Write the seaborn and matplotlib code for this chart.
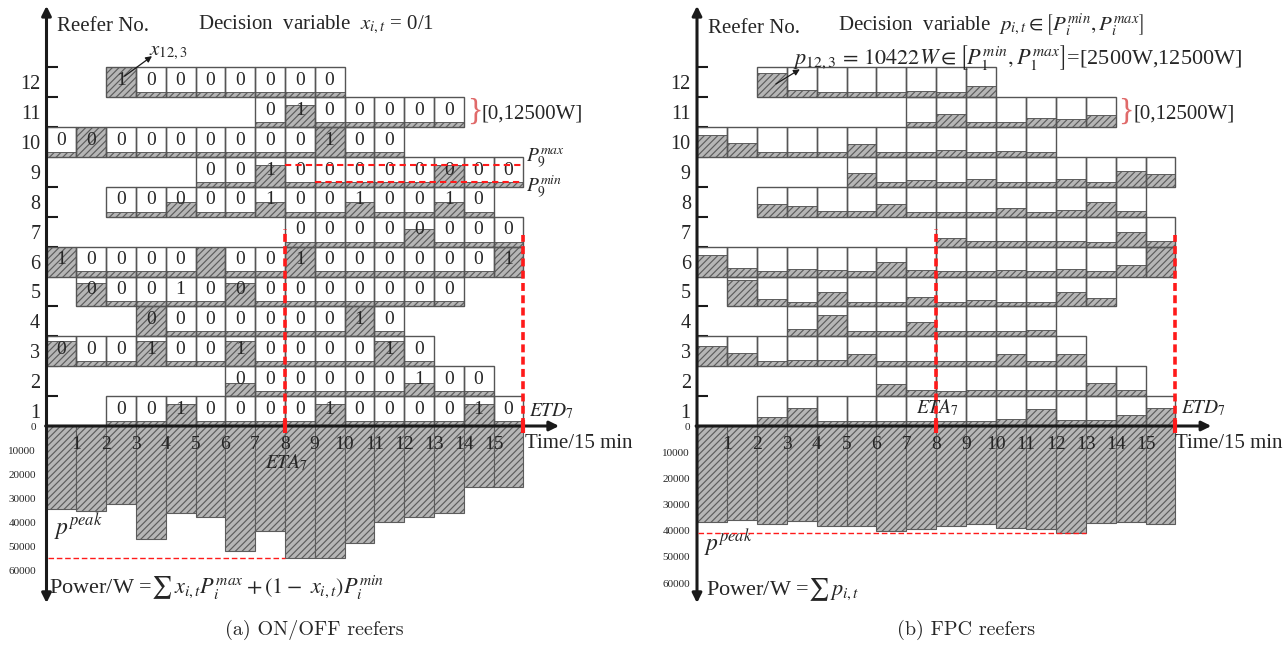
import numpy as np
import pandas as pd
import matplotlib
matplotlib.use("Agg")
import matplotlib.pyplot as plt
import seaborn as sns

# ---------------------------------------------------------------- data
time_labels = [str(i) for i in range(1, 16)]
power_ticks = [0, 10000, 20000, 30000, 40000, 50000, 60000]
reefers = list(range(1, 13))

# first 15-min slot (0-based) of each reefer's stay, reefer 1..12
stay_start = [2, 6, 0, 3, 1, 0, 8, 2, 5, 0, 7, 2]

# ON/OFF decisions written in the cells, reefer 1..12
onoff_x = [
    "00100001000010",
    "000000100",
    "0001001000010",
    "000000010",
    "0001000000000",
    "10000 0010000001",
    "00000000",
    "0000010010010",
    "00100000000",
    "000000000100",
    "0100000",
    "10000000",
]
# hatched power share of each cell (fraction of 12500 W), ON/OFF panel
onoff_level = [
    [.17, .17, .75, .17, .17, .17, .17, .75, .17, .17, .17, .17, .75, .17],
    [.45, .17, .17, .17, .17, .17, .45, .17, .17],
    [.85, .17, .17, .85, .17, .17, .85, .17, .17, .17, .17, .85, .17],
    [1.0, .17, .17, .17, .17, .17, .17, 1.0, .17],
    [.77, .17, .17, .17, .17, .77, .17, .17, .17, .17, .17, .17, .17],
    [1.0, .17, .17, .17, .17, 1.0, .17, .17, 1.0, .17, .17, .17, .17, .17, .17, 1.0],
    [.17, .17, .17, .17, .6, .17, .17, .17],
    [.17, .17, .5, .17, .17, .5, .17, .17, .5, .17, .17, .5, .17],
    [.15, .15, .72, .15, .15, .15, .15, .15, .72, .15, .15],
    [.17, 1.0, .17, .17, .17, .17, .17, .17, .17, 1.0, .17, .17],
    [.17, .75, .17, .17, .17, .17, .17],
    [1.0, .17, .17, .17, .17, .17, .17, .17],
]
# hatched power share of each cell, FPC panel
fpc_level = [
    [.29, .59, .18, .18, .18, .18, .18, .18, .25, .56, .2, .2, .36, .59],
    [.39, .22, .17, .2, .2, .2, .22, .44, .2],
    [.69, .43, .18, .21, .21, .41, .18, .18, .18, .18, .41, .18, .41],
    [.23, .71, .18, .18, .49, .18, .18, .18, .21],
    [.88, .24, .16, .49, .16, .16, .3, .16, .21, .16, .16, .47, .28],
    [.71, .29, .2, .26, .22, .2, .49, .22, .2, .2, .22, .2, .26, .19, .39, .97],
    [.28, .19, .19, .19, .19, .15, .5, .19],
    [.42, .36, .2, .2, .42, .17, .17, .17, .28, .17, .24, .5, .2],
    [.45, .17, .22, .17, .26, .17, .17, .26, .17, .52, .44],
    [.72, .48, .17, .17, .17, .43, .17, .17, .22, .17, .2, .17],
    [.18, .43, .17, .17, .29, .26, .41],
    [.82, .24, .16, .16, .16, .19, .16, .37],
]
# total power per slot (W)
onoff_power = [34700, 35300, 32600, 47200, 36400, 37800, 52100, 43700,
               55000, 55000, 48900, 39900, 37800, 36400, 25300, 25300]
fpc_power = [36600, 35800, 37500, 36200, 38100, 38100, 39900, 39400,
             38100, 37500, 38800, 39400, 40900, 37200, 36600, 37500]
onoff_peak_end = 8
fpc_peak_end = 13

# ---------------------------------------------------------------- style
W, H = 1288, 646
sns.set_theme(style="white")
plt.rcParams["font.family"] = ["Liberation Serif", "DejaVu Serif"]
plt.rcParams["mathtext.fontset"] = "stix"
plt.rcParams["hatch.linewidth"] = 0.85

FACE = "#b6b6b6"
HEDGE = "#5c5c5c"
BOX = "#555555"
RED = "#ff1a1a"
HATCH = "/////"
UY = 29.9      # px per reefer row
Y0 = 426       # px of the time axis
XMAX = 17.6

fig = plt.figure(figsize=(W / 100, H / 100), dpi=100)


def add_axes_px(left, top, width, height):
    return fig.add_axes([left / W, 1 - (top + height) / H, width / W, height / H])


def draw_panel(x0, ux, px10k, levels, labels, power, peak_end, ypad):
    axt = add_axes_px(x0, 0, XMAX * ux, Y0)
    axb = add_axes_px(x0, Y0, XMAX * ux, H - Y0)
    axt.set_zorder(3)
    axb.set_zorder(2)
    for a in (axt, axb):
        a.patch.set_alpha(0)
        for s in a.spines.values():
            s.set_visible(False)

    # ---- power bars (seaborn)
    df = pd.DataFrame({"t": np.arange(len(power)) + 0.5, "p": power})
    sns.barplot(data=df, x="t", y="p", native_scale=True, orient="x", width=1,
                color=FACE, saturation=1, edgecolor=HEDGE, linewidth=0.8,
                hatch=HATCH, errorbar=None, ax=axb)
    pmax_axis = (H - Y0) / px10k * 10000
    axb.set_xlim(0, XMAX)
    axb.set_ylim(pmax_axis, 0)
    axb.set_xlabel("")
    axb.set_ylabel("")
    axb.set_xticks([])
    axb.set_yticks(power_ticks)
    axb.set_yticklabels([str(v) for v in power_ticks])
    axb.tick_params(axis="y", left=True, length=0, pad=ypad, labelsize=8)
    axb.hlines(max(power), 0.05, peak_end, colors=RED, lw=1.0,
               linestyles=(0, (4, 2)), zorder=5)
    axb.annotate("", xy=(0, (603 - Y0) / px10k * 10000), xytext=(0, 0),
                 arrowprops=dict(arrowstyle="-|>", lw=2.2, color="k",
                                 mutation_scale=14, shrinkA=0, shrinkB=0),
                 annotation_clip=False)

    # ---- reefer cells
    axt.set_xlim(0, XMAX)
    axt.set_ylim(0, Y0 / UY)
    for r, s, lev in zip(reefers, stay_start, levels):
        xs = s + np.arange(len(lev))
        axt.bar(xs, lev, width=1, bottom=r - 1, align="edge", color=FACE,
                edgecolor=HEDGE, linewidth=0.7, hatch=HATCH, zorder=2)
        axt.bar(xs, [1] * len(lev), width=1, bottom=r - 1, align="edge",
                fill=False, edgecolor=BOX, linewidth=1.0, zorder=3)
        if labels is not None:
            for j, ch in enumerate(labels[r - 1]):
                if ch.strip():
                    axt.text(s + j + 0.5, r - 1 + 0.56, ch, ha="center",
                             va="center", fontsize=14, zorder=4)

    axt.set_xticks(range(1, 16))
    axt.set_xticklabels(time_labels)
    axt.set_xticks([5, 10, 15], minor=True)
    axt.tick_params(axis="x", which="major", bottom=True, length=0, pad=7,
                    labelsize=14)
    axt.tick_params(axis="x", which="minor", bottom=True, length=3, width=1.2,
                    direction="out", color="k")
    axt.set_yticks([r - 0.5 for r in reefers])
    axt.set_yticklabels([str(r) for r in reefers])
    axt.set_yticks(reefers, minor=True)
    axt.tick_params(axis="y", which="major", left=True, length=0, pad=4.5,
                    labelsize=14.5)
    axt.tick_params(axis="y", which="minor", left=True, length=8, width=1.5,
                    direction="in", color="k")

    ap = dict(arrowstyle="-|>", lw=2.2, color="k", mutation_scale=14,
              shrinkA=0, shrinkB=0)
    axt.annotate("", xy=(0, 14.05), xytext=(0, -0.03), arrowprops=ap,
                 annotation_clip=False)
    axt.annotate("", xy=(17.2, 0), xytext=(-0.03, 0), arrowprops=ap,
                 annotation_clip=False)

    # ETA / ETD of reefer 7
    eta = stay_start[6]
    etd = stay_start[6] + len(levels[6])
    axt.vlines([eta, etd], 0, [6.6, 6.4], colors=RED, lw=2.6,
               linestyles=(0, (2.2, 1.2)), zorder=6)
    axt.vlines([eta, etd], -0.25, 0.2, colors=RED, lw=3, zorder=6,
               clip_on=False)
    # bracket for reefer 11 range
    axt.text(14.1, 10.5, "}", color="#e06a6a", fontsize=23, ha="left",
             va="center", fontweight="light", zorder=6)
    axt.text(14.6, 10.45, "[0,12500W]", fontsize=15, ha="left", va="center")
    return axt, axb, eta, etd


# ---------------------------------------------------------------- panel (a)
axt, axb, eta, etd = draw_panel(46.5, 29.8, 24.0, onoff_level, onoff_x,
                                onoff_power, onoff_peak_end, ypad=7.5)
axt.text(0.35, 13.35, "Reefer No.", fontsize=15, ha="left", va="center")
axt.text(5.1, 13.4, r"Decision  variable  $x_{i,t}$ = 0/1", fontsize=15,
         ha="left", va="center")
axt.text(3.44, 12.5, r"$x_{12,3}$", fontsize=15, ha="left", va="center")
axt.annotate("", xy=(3.54, 12.37), xytext=(2.62, 11.7),
             arrowprops=dict(arrowstyle="-|>", lw=0.9, color="k",
                             mutation_scale=9, shrinkA=0, shrinkB=0),
             zorder=6)
r9 = onoff_level[8]
axt.hlines(8 + max(r9), eta, etd, colors=RED, lw=1.5,
           linestyles=(0, (3, 2)), zorder=6)
axt.hlines(8 + min(r9), eta + 1, etd, colors=RED, lw=1.5,
           linestyles=(0, (3, 2)), zorder=6)
axt.text(16.1, 8.95, r"$P_9^{max}$", fontsize=14, ha="left", va="center")
axt.text(16.1, 8.0, r"$P_9^{min}$", fontsize=14, ha="left", va="center")
axt.text(16.2, 0.48, r"$ETD_7$", fontsize=14, ha="left", va="center")
axb.text(8.05, 15200, r"$ETA_7$", fontsize=14, ha="center", va="center")
axb.text(16.05, 7100, "Time/15 min", fontsize=15, ha="left", va="center")
axb.text(0.25, 42000, r"$p^{peak}$", fontsize=17, ha="left", va="center")
axb.text(0.1, 67500,
         r"Power/W =$\sum\, x_{i,t}P_i^{max} + (1-\ x_{i,t})P_i^{min}$",
         fontsize=16, ha="left", va="center")
axb.text(9.0, 85000, "(a) ON/OFF reefers", fontsize=14.5, family="cmr10",
         ha="center", va="center")

# ---------------------------------------------------------------- panel (b)
axt, axb, eta, etd = draw_panel(697, 29.9, 26.2, fpc_level, None,
                                fpc_power, fpc_peak_end, ypad=5)
axt.text(0.37, 13.3, "Reefer No.", fontsize=15, ha="left", va="center")
axt.text(4.7, 13.4,
         r"Decision  variable  $p_{i,t} \in \left[P_i^{min}, P_i^{max}\right]$",
         fontsize=15, ha="left", va="center")
axt.text(3.2, 12.34,
         r"$p_{12,3}\,=\,10422W \in \left[P_1^{min}, P_1^{max}\right]$=[2500W,12500W]",
         fontsize=16, ha="left", va="center")
axt.annotate("", xy=(3.44, 11.93), xytext=(2.64, 11.44),
             arrowprops=dict(arrowstyle="-|>", lw=0.9, color="k",
                             mutation_scale=9, shrinkA=0, shrinkB=0),
             zorder=6)
axt.text(8.05, 0.6, r"$ETA_7$", fontsize=14, ha="center", va="center", zorder=7)
axt.text(16.2, 0.6, r"$ETD_7$", fontsize=14, ha="left", va="center")
axb.text(16.0, 6500, "Time/15 min", fontsize=15, ha="left", va="center")
axb.text(0.23, 44700, r"$p^{peak}$", fontsize=17, ha="left", va="center")
axb.text(0.3, 62600, r"Power/W =$\sum\, p_{i,t}$", fontsize=16, ha="left",
         va="center")
axb.text(9.0, 77900, "(b) FPC reefers", fontsize=14.5, family="cmr10",
         ha="center", va="center")

fig.savefig("out.png", dpi=100)
